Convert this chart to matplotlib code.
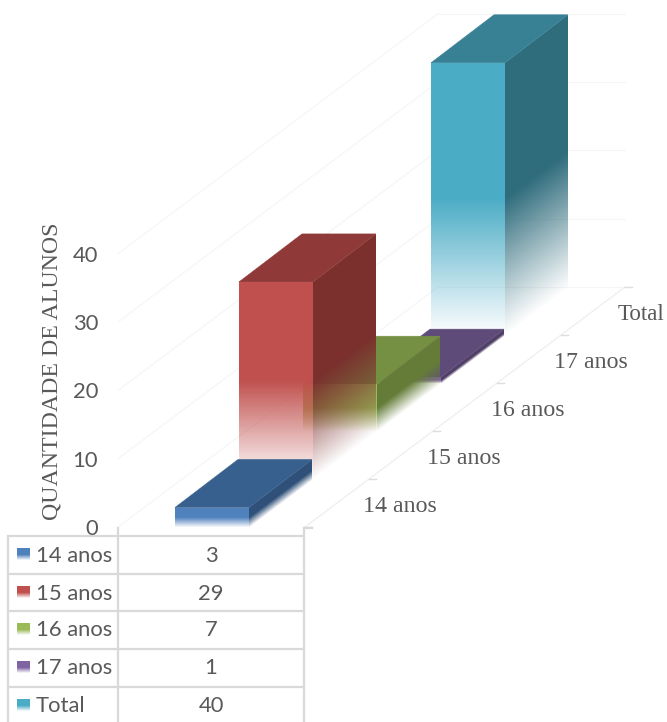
import numpy as np
import matplotlib
matplotlib.use("Agg")
import matplotlib.pyplot as plt
from matplotlib.patches import Polygon

categories = ["14 anos", "15 anos", "16 anos", "17 anos", "Total"]
values = [3, 29, 7, 1, 40]
y_ticks = [0, 10, 20, 30, 40]
y_title = "QUANTIDADE DE ALUNOS"

front_colors = ["#4f81bd", "#c0504d", "#9bbb59", "#8064a2", "#4bacc6"]
top_colors = ["#38608f", "#8f3a38", "#769043", "#5f4b7a", "#388194"]
side_colors = ["#2f5078", "#7b302e", "#647c38", "#503f67", "#2f6c7c"]

GRID = "#f5f5f5"
AXIS = "#eeeeee"
TABLE = "#d9d9d9"
TEXT = "#595959"
SANS = "Lato"
SERIF = "Liberation Serif"

# oblique projection, everything in pixels of the final image
X0, Y0 = 175, 527      # front bottom left of the floor
BAR_Y0 = 528
BAR_W = 74
STEP_X, STEP_Y = 64, -48
PX_PER_UNIT = 6.83
FLOOR_L, FLOOR_R = 118, 305


def proj(x, cat, val):
    # x along the bar width, cat along the depth axis (may be fractional)
    return (X0 + x + cat * STEP_X, BAR_Y0 + cat * STEP_Y - val * PX_PER_UNIT)


fig = plt.figure(figsize=(6.67, 7.22), dpi=100)
ax = fig.add_axes([0, 0, 1, 1])
ax.set_xlim(0, 667)
ax.set_ylim(722, 0)
ax.axis("off")


def wall_lines():
    n = len(categories)
    for t in y_ticks:
        h = t * PX_PER_UNIT
        x_back = FLOOR_L + n * STEP_X
        y_front = Y0 - h
        y_back = Y0 + n * STEP_Y - h
        ax.plot([FLOOR_L, x_back], [y_front, y_back], color=GRID, lw=0.8, zorder=1)
        ax.plot([x_back, FLOOR_R + n * STEP_X], [y_back, y_back], color=GRID, lw=0.8, zorder=1)
    # category axis with its little ticks
    ax.plot([FLOOR_R, FLOOR_R + n * STEP_X], [Y0, Y0 + n * STEP_Y], color=AXIS, lw=0.9, zorder=1)
    for i in range(n + 1):
        tx = FLOOR_R + i * STEP_X
        ty = Y0 + i * STEP_Y
        ax.plot([tx, tx + 7], [ty, ty], color="#dddddd", lw=1, zorder=1)


def face(pts, color, fade, z):
    # fade(xx, yy) gives the opacity of each pixel of the face
    pts = np.array(pts)
    x1, y1 = np.floor(pts.min(axis=0)).astype(int)
    x2, y2 = np.ceil(pts.max(axis=0)).astype(int)
    xx, yy = np.meshgrid(np.arange(x1, x2 + 1) + 0.0, np.arange(y1, y2 + 1) + 0.0)
    rgba = np.zeros(xx.shape + (4,))
    rgba[..., :3] = matplotlib.colors.to_rgb(color)
    rgba[..., 3] = fade(xx, yy)
    im = ax.imshow(rgba, extent=(x1 - 0.5, x2 + 0.5, y2 + 0.5, y1 - 0.5), aspect="auto",
                   interpolation="bilinear", zorder=z)
    im.set_clip_path(Polygon(pts, closed=True, transform=ax.transData))


def draw_bar(i, val, z):
    x_bl, y_bl = proj(0, i, 0)
    x_tl, y_tl = proj(0, i, val)
    x_br = x_bl + BAR_W
    height = y_bl - y_tl
    y_mid = y_bl - height * 0.5

    def fade_front(xx, yy):
        return np.clip((y_bl - yy) / (y_bl - y_mid), 0, 1)

    def fade_side(xx, yy):
        # same ramp as the front, sheared along the depth direction
        unsheared = yy - (xx - x_br) * (STEP_Y / STEP_X)
        return np.clip((y_bl - unsheared) / (y_bl - y_mid), 0, 1)

    dx, dy = STEP_X - 1, STEP_Y
    side = [(x_br, y_tl), (x_br + dx, y_tl + dy), (x_br + dx, y_bl + dy), (x_br, y_bl)]
    top = [(x_bl, y_tl), (x_br, y_tl), (x_br + dx, y_tl + dy), (x_bl + dx, y_tl + dy)]
    front = [(x_bl, y_tl), (x_br, y_tl), (x_br, y_bl), (x_bl, y_bl)]

    face(side, side_colors[i], fade_side, z)
    ax.add_patch(Polygon(top, closed=True, fc=top_colors[i], ec=top_colors[i], lw=0.4, zorder=z))
    face(front, front_colors[i], fade_front, z)


wall_lines()

# far bars first so the nearer ones cover them
for i in reversed(range(len(values))):
    draw_bar(i, values[i], 5 + (len(values) - i))

for t in y_ticks:
    ax.text(98, Y0 + 2 - t * PX_PER_UNIT, str(t), ha="right", va="center", fontsize=15.8,
            family=SANS, color=TEXT, zorder=20)
ax.text(52, 371, y_title, rotation=90, ha="center", va="center", fontsize=17.2,
        family=SERIF, color=TEXT, zorder=20)

label_x = [400, 464, 528, 591, 641]
label_y = [507, 459, 411, 363, 314]
for cat, cx, cy in zip(categories, label_x, label_y):
    ax.text(cx, cy, cat, ha="center", va="center", fontsize=17.2 if cat != "Total" else 16.5,
            family=SERIF, color=TEXT, zorder=20)

# data table under the plot
row_y = [536, 574, 611, 649, 687]
for y in row_y:
    ax.plot([8, 304], [y, y], color=TABLE, lw=1.6, zorder=3, solid_capstyle="butt")
ax.plot([8, 8], [536, 722], color=TABLE, lw=1.6, zorder=3)
ax.plot([118, 118], [528, 722], color=TABLE, lw=1.6, zorder=3)
ax.plot([304, 304], [528, 722], color=TABLE, lw=1.6, zorder=3)
ax.plot([304, 312], [528, 528], color=TABLE, lw=1.6, zorder=3)

for i, (cat, val) in enumerate(zip(categories, values)):
    cy = row_y[i] + 19.5
    sy = row_y[i] + 18
    grad = np.zeros((12, 1, 4))
    grad[..., :3] = matplotlib.colors.to_rgb(front_colors[i])
    grad[:, 0, 3] = np.r_[np.ones(6), np.linspace(1, 0.1, 6)]
    ax.imshow(grad, extent=(17, 30, sy + 6, sy - 6), aspect="auto", zorder=4, interpolation="bilinear")
    ax.text(36, cy, cat, ha="left", va="center", fontsize=15.8, family=SANS, color=TEXT, zorder=20)
    ax.text(211, cy, str(val), ha="center", va="center", fontsize=15.8, family=SANS, color=TEXT, zorder=20)

ax.set_xlim(0, 667)
ax.set_ylim(722, 0)
fig.savefig("out.png", dpi=100, facecolor="white")
